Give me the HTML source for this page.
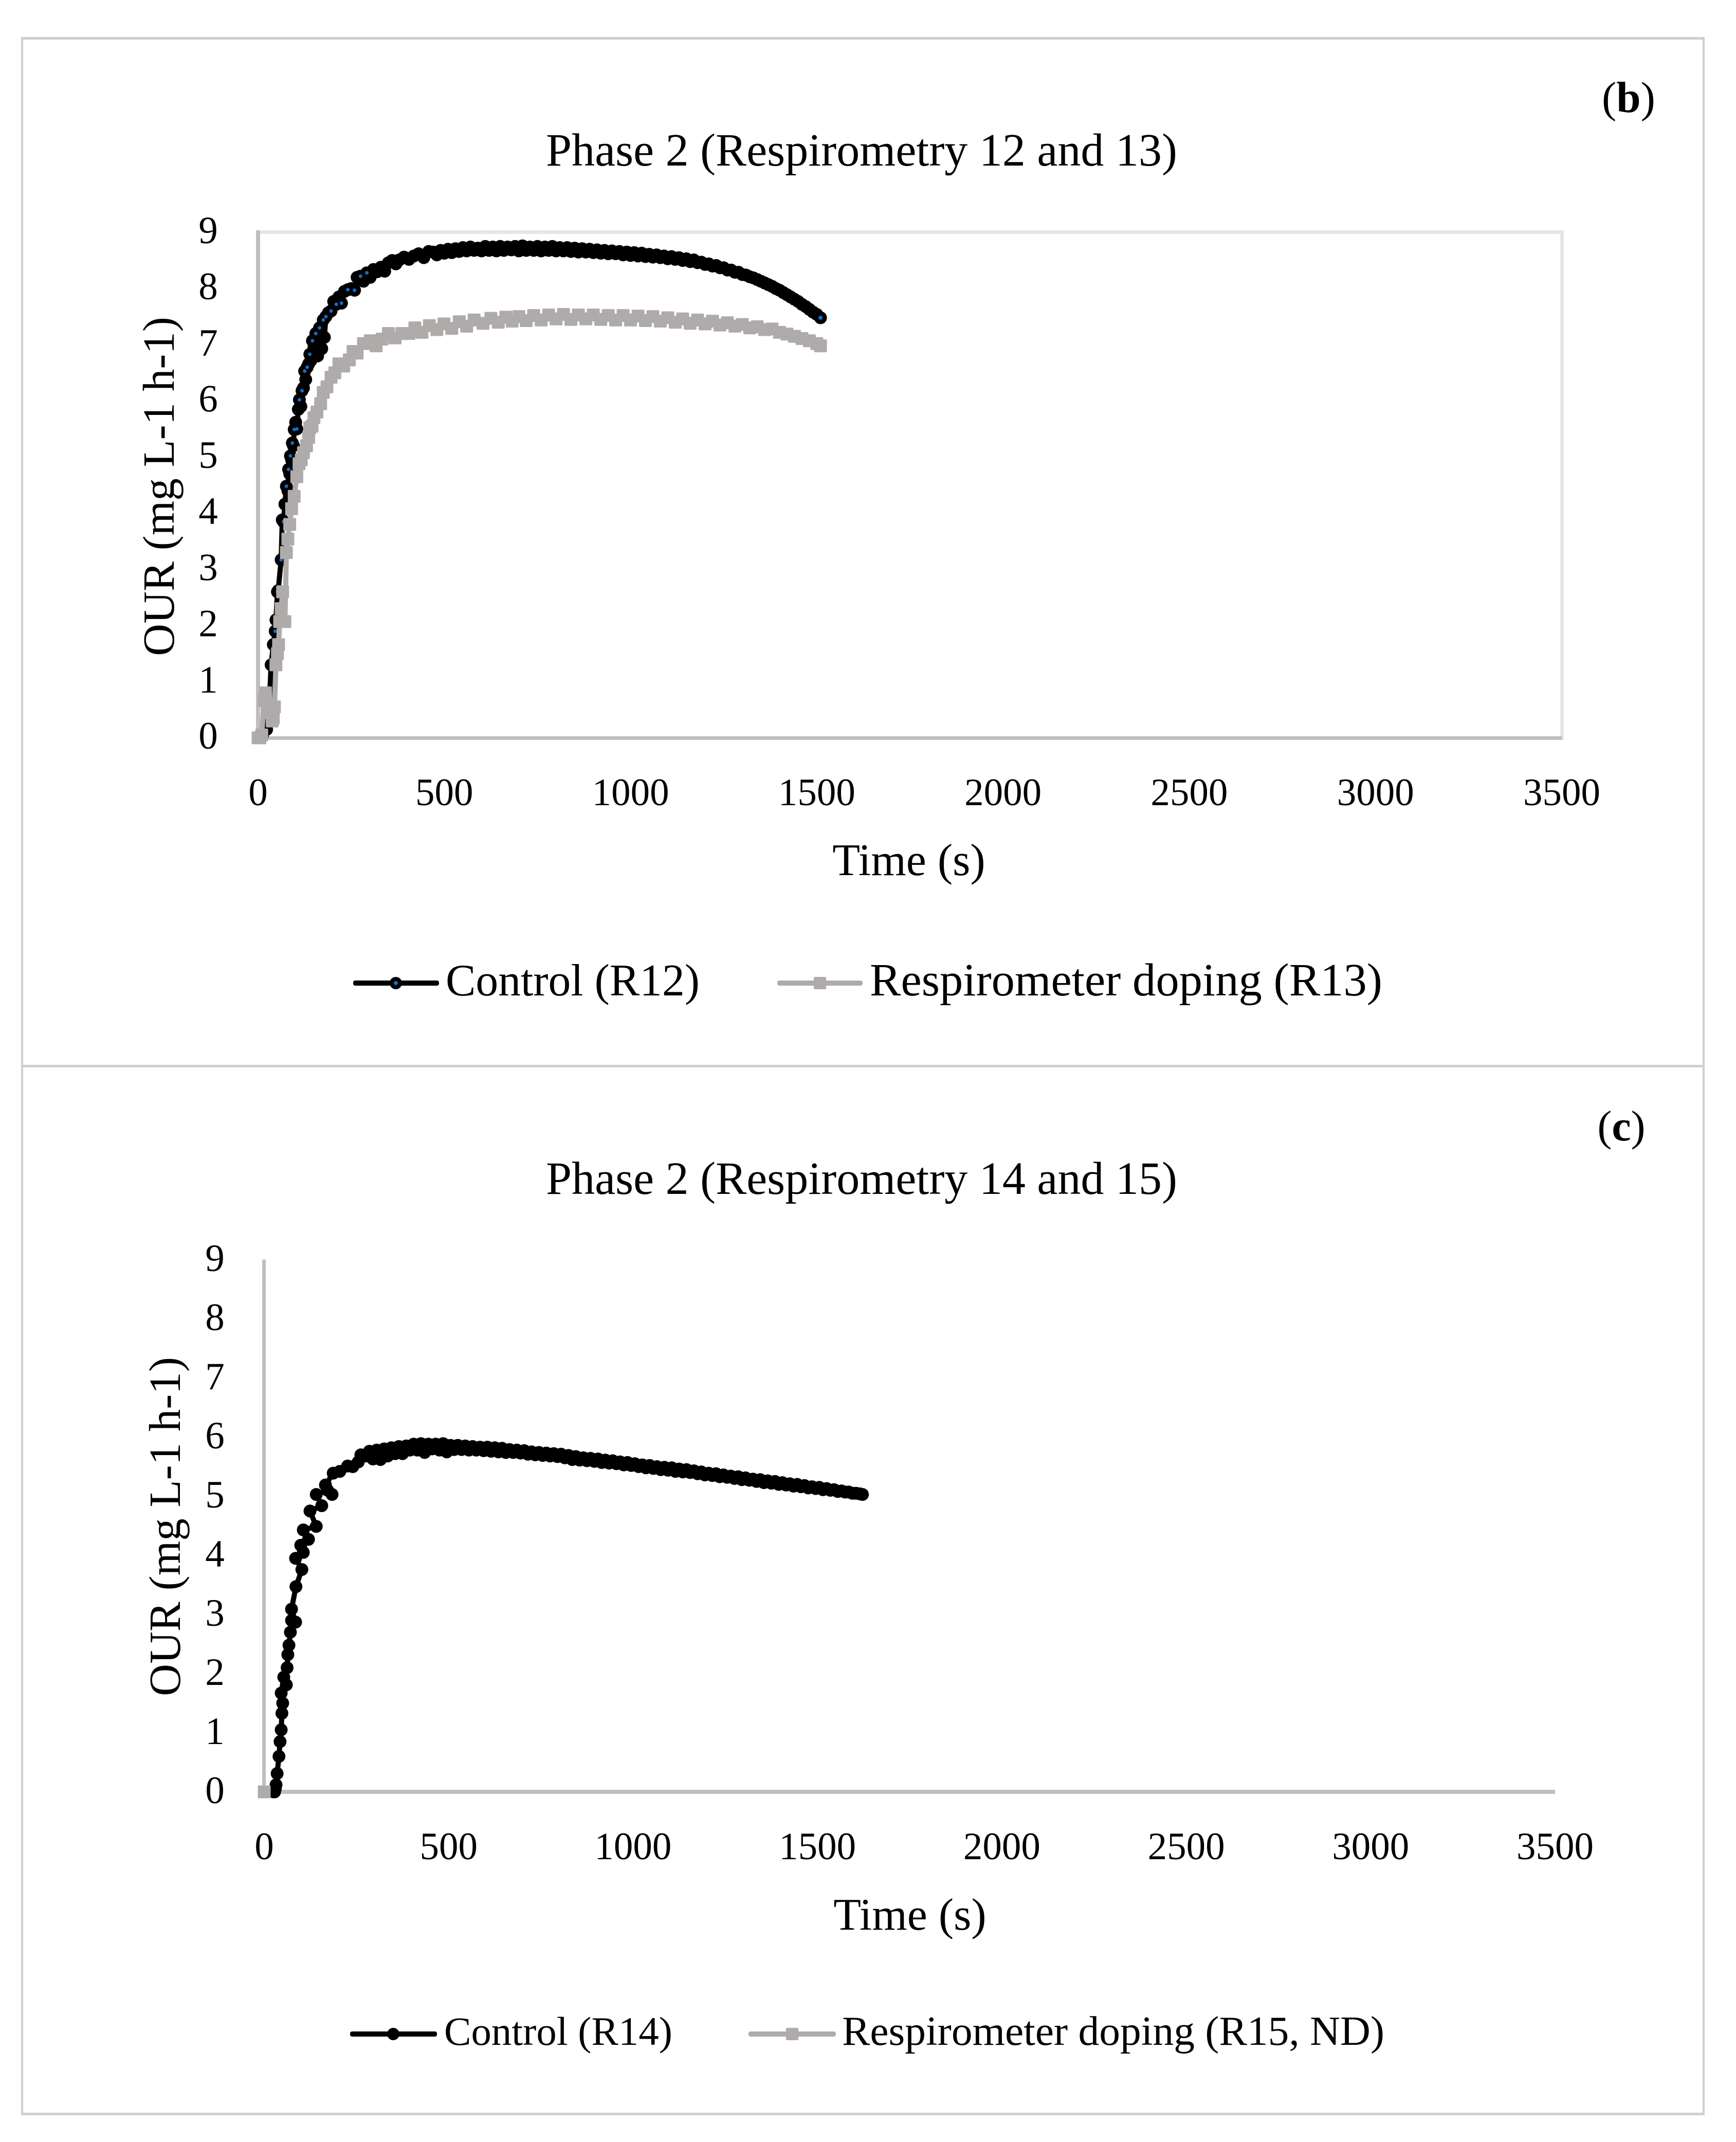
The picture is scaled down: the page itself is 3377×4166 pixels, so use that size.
<!DOCTYPE html>
<html lang="en">
<head>
<meta charset="utf-8">
<title>Phase 2 respirometry charts</title>
<style>
  html, body { margin: 0; padding: 0; background: #fff; }
  svg { display: block; }
  text { font-family: "Liberation Serif", serif; fill: #000; }
  .tick { font-size: 75px; }
  .title { font-size: 88px; }
</style>
</head>
<body>
<svg id="figure" xmlns="http://www.w3.org/2000/svg" width="3377" height="4166" viewBox="0 0 3377 4166">
  <rect x="0" y="0" width="3377" height="4166" fill="#fff"/>
  <g fill="#D0CECE">
    <rect x="41" y="72" width="3275" height="5"/>
    <rect x="41" y="2071" width="3275" height="5"/>
    <rect x="41" y="4109" width="3275" height="5"/>
    <rect x="41" y="72" width="4" height="4042"/>
    <rect x="3312" y="72" width="4" height="4042"/>
  </g>

  <text style="font-size:85px" x="3168" y="218" text-anchor="middle">(<tspan font-weight="bold">b</tspan>)</text>
  <text style="font-size:90px" x="1062" y="322" textLength="1228" lengthAdjust="spacingAndGlyphs">Phase 2 (Respirometry 12 and 13)</text>
  <text class="title" x="1768" y="1702" text-anchor="middle">Time (s)</text>
  <text style="font-size:87px" text-anchor="middle" transform="translate(338 946) rotate(-90)">OUR (mg L-1 h-1)</text>
  <g id="plot-b"></g>
  <g>
    <g>
      <rect x="687" y="1907" width="167" height="10" rx="4" fill="#000"/>
      <circle cx="770" cy="1912" r="12" fill="#000"/>
      <circle cx="770" cy="1912" r="4" fill="#0F6FC6"/>
      <text class="title" x="867" y="1936" textLength="494" lengthAdjust="spacingAndGlyphs">Control (R12)</text>
    </g>
    <g>
      <rect x="1512" y="1907" width="166" height="10" rx="4" fill="#AFABAB"/>
      <rect x="1583" y="1900" width="24" height="24" rx="2" fill="#AFABAB"/>
      <text style="font-size:90px" x="1692" y="1936" textLength="997" lengthAdjust="spacingAndGlyphs">Respirometer doping (R13)</text>
    </g>
  </g>

  <text style="font-size:84px" x="3154" y="2218" text-anchor="middle">(<tspan font-weight="bold">c</tspan>)</text>
  <text style="font-size:90px" x="1062" y="2322" textLength="1228" lengthAdjust="spacingAndGlyphs">Phase 2 (Respirometry 14 and 15)</text>
  <text class="title" x="1770" y="3753" text-anchor="middle">Time (s)</text>
  <text style="font-size:87px" text-anchor="middle" transform="translate(350 2969) rotate(-90)">OUR (mg L-1 h-1)</text>
  <g id="plot-c"></g>
  <g>
    <g>
      <rect x="681" y="3951" width="169" height="10" rx="4" fill="#000"/>
      <circle cx="765" cy="3956" r="12" fill="#000"/>
      <text style="font-size:78px" x="864" y="3977" textLength="444" lengthAdjust="spacingAndGlyphs">Control (R14)</text>
    </g>
    <g>
      <rect x="1456" y="3951" width="170" height="10" rx="4" fill="#AFABAB"/>
      <rect x="1529" y="3944" width="24" height="24" rx="2" fill="#AFABAB"/>
      <text style="font-size:80px" x="1638" y="3977" textLength="1055" lengthAdjust="spacingAndGlyphs">Respirometer doping (R15, ND)</text>
    </g>
  </g>
</svg>

<script>
const xTickValues = [0, 500, 1000, 1500, 2000, 2500, 3000, 3500];
const yTickValues = [0, 1, 2, 3, 4, 5, 6, 7, 8, 9];

const r12Times = [
  0,12,23,30,35,41,46,48,52,54,
  62,65,68,72,76,80,82,85,87,90,
  92,95,97,101,104,108,111,115,118,122,
  125,128,132,136,139,142,146,150,155,160,
  165,171,175,178,182,189,196,203,210,217,
  224,232,241,250,259,266,275,283,292,301,
  310,320,330,340,350,360,370,379,392,405,
  418,431,445,458,
  470,480,490,500,510,520,530,540,550,560,
  570,580,590,600,610,620,630,640,650,660,
  670,680,690,700,710,720,730,740,750,760,
  770,780,790,800,810,820,830,840,850,860,
  870,880,890,900,910,920,930,940,950,960,
  970,980,990,1000,1010,1020,1030,1040,1050,1060,
  1070,1080,1090,1100,1110,1120,1130,1140,1150,1160,
  1170,1180,1190,1200,1210,1220,1230,1240,1250,1260,
  1270,1280,1290,1300,1310,1320,1330,1340,1350,1360,
  1370,1380,1390,1400,1410,1420,1430,1440,1450,1460,
  1470,1480,1490,1500,1510
];
const r12Values = [
  0,0.05,0.15,0.6,1.3,1.66,1.9,2.1,2.6,2.62,
  3.17,3.88,3.85,4.16,4.48,4.4,4.78,4.7,5.02,4.95,
  5.25,5.2,5.49,5.62,5.5,5.85,6.02,5.9,6.18,6.23,
  6.53,6.38,6.6,6.66,6.83,6.72,7.07,6.95,7.2,6.8,
  7.3,6.93,7.44,7.13,7.5,7.57,7.6,7.77,7.72,7.85,
  7.74,7.95,7.98,8.0,7.97,8.2,8.22,8.13,8.28,8.2,
  8.34,8.3,8.38,8.31,8.46,8.5,8.44,8.51,8.56,8.52,
  8.58,8.62,8.55,8.66,
  8.65,8.60,8.68,8.63,8.70,8.64,8.71,8.66,8.73,8.67,
  8.74,8.68,8.72,8.67,8.75,8.68,8.74,8.67,8.75,8.68,
  8.74,8.69,8.75,8.67,8.76,8.68,8.74,8.68,8.75,8.67,
  8.74,8.68,8.75,8.67,8.73,8.67,8.73,8.66,8.72,8.65,
  8.71,8.65,8.70,8.64,8.69,8.63,8.68,8.62,8.67,8.62,
  8.66,8.60,8.65,8.59,8.64,8.58,8.63,8.57,8.61,8.56,
  8.60,8.55,8.58,8.53,8.57,8.52,8.55,8.50,8.53,8.48,
  8.51,8.46,8.47,8.43,8.44,8.40,8.41,8.37,8.37,8.33,
  8.33,8.29,8.29,8.25,8.24,8.21,8.19,8.16,8.13,8.10,
  8.07,8.04,8.00,7.97,7.93,7.89,7.85,7.81,7.77,7.72,
  7.68,7.63,7.58,7.54,7.48
];

const r13Times = [
  0,5,10,16,20,24,27,33,38,41,
  44,48,52,55,58,62,66,72,76,80,
  85,90,97,104,110,116,122,130,136,139,
  145,150,158,168,175,185,196,206,217,230,
  245,255,266,283,301,317,333,350,368,386,
  405,421,440,460,480,499,520,540,560,580,
  604,625,645,665,682,700,720,740,760,780,
  800,820,840,860,880,900,920,940,960,980,
  1000,1020,1040,1060,1080,1100,1120,1140,1160,1180,
  1200,1220,1240,1260,1280,1300,1320,1340,1360,1380,
  1400,1420,1440,1460,1480,1500,1510
];
const r13Values = [
  0,0,0.05,0.66,0.8,0.6,0.52,0.45,0.3,0.35,
  0.55,1.3,1.5,1.66,2.07,2.3,2.6,2.07,3.3,3.54,
  3.8,4.08,4.3,4.65,4.88,4.95,5.08,5.2,5.35,5.52,
  5.55,5.7,5.8,5.95,6.15,6.25,6.42,6.5,6.66,6.62,
  6.73,6.88,6.85,7.02,7.07,6.98,7.1,7.2,7.12,7.2,
  7.2,7.3,7.22,7.34,7.27,7.37,7.29,7.41,7.33,7.44,
  7.38,7.47,7.4,7.49,7.42,7.5,7.43,7.52,7.44,7.53,
  7.46,7.54,7.45,7.53,7.46,7.53,7.45,7.52,7.44,7.52,
  7.44,7.51,7.43,7.5,7.42,7.48,7.4,7.46,7.38,7.44,
  7.37,7.42,7.35,7.39,7.33,7.36,7.3,7.32,7.27,7.28,
  7.22,7.19,7.15,7.11,7.07,7.02,6.98
];

const r14Times = [
  25,28,30,32,35,40,43,46,48,50,
  46,53,60,62,64,67,71,74,85,74,
  86,102,85,106,99,120,106,141,124,156,
  141,172,184,166,187,205,226,240,255,262,
  275,285,295,305,315,325,335,345,355,365,
  375,385,395,405,415,425,435,445,455,465,
  475,485,495,505,515,525,535,545,555,565,
  575,585,595,605,615,625,635,645,655,
  665,675,685,695,705,715,725,735,745,755,
  765,775,785,795,805,815,825,835,845,855,
  865,875,885,895,905,915,925,935,945,955,
  965,975,985,995,1005,1015,1025,1035,1045,1055,
  1065,1075,1085,1095,1105,1115,1125,1135,1145,1155,
  1165,1175,1185,1195,1205,1215,1225,1235,1245,1255,
  1265,1275,1285,1295,1305,1315,1325,1335,1345,1355,
  1365,1375,1385,1395,1405,1415,1425,1435,1445,1455,
  1465,1475,1485,1495,1505,1515,1525,1535,1545,1555,
  1565,1575,1585,1595,1605,1615,1622
];
const r14Values = [
  0,0,0.05,0.12,0.31,0.6,0.85,1.05,1.33,1.5,
  1.67,1.94,1.81,2.1,2.32,2.48,2.7,2.9,2.87,3.09,
  3.47,3.76,3.95,4.05,4.17,4.27,4.43,4.49,4.75,4.84,
  5.03,5.1,5.03,5.19,5.39,5.42,5.51,5.5,5.58,5.7,
  5.68,5.76,5.63,5.78,5.62,5.8,5.68,5.82,5.72,5.84,
  5.72,5.85,5.78,5.88,5.78,5.89,5.74,5.88,5.8,5.88,
  5.78,5.89,5.75,5.86,5.79,5.86,5.79,5.85,5.78,5.84,
  5.78,5.83,5.77,5.83,5.76,5.82,5.75,5.81,5.74,
  5.79,5.74,5.78,5.73,5.77,5.71,5.75,5.7,5.74,5.69,
  5.73,5.68,5.72,5.67,5.71,5.65,5.69,5.62,5.67,5.61,
  5.65,5.6,5.64,5.59,5.63,5.57,5.61,5.56,5.6,5.55,
  5.58,5.53,5.57,5.52,5.55,5.5,5.53,5.48,5.52,5.47,
  5.5,5.45,5.49,5.44,5.48,5.42,5.46,5.41,5.45,5.4,
  5.43,5.38,5.41,5.36,5.39,5.35,5.38,5.33,5.36,5.32,
  5.34,5.3,5.33,5.28,5.31,5.27,5.29,5.25,5.28,5.23,
  5.26,5.22,5.25,5.2,5.23,5.19,5.21,5.17,5.2,5.16,
  5.18,5.14,5.16,5.13,5.15,5.11,5.13,5.1,5.11,5.08,
  5.09,5.07,5.07,5.05,5.05,5.04,5.03
];

const r15Times = [0];
const r15Values = [0];

const SVG_NS = 'http://www.w3.org/2000/svg';
const xMax = 3500;
const yMax = 9;

function makeScaleX(left, right) {
  return function (v) { return left + (v / xMax) * (right - left); };
}
function makeScaleY(bottom, top) {
  return function (v) { return bottom - (v / yMax) * (bottom - top); };
}
function svgEl(tag, attrs, parent) {
  const el = document.createElementNS(SVG_NS, tag);
  Object.keys(attrs).forEach(function (k) { el.setAttribute(k, attrs[k]); });
  parent.appendChild(el);
  return el;
}

function drawTicks(parent, sx, sy, xBaseline, yTickX, yOffset) {
  xTickValues.forEach(function (v) {
    const t = svgEl('text', { x: sx(v), y: xBaseline, 'text-anchor': 'middle', 'class': 'tick' }, parent);
    
    
    t.textContent = v;
  });
  yTickValues.forEach(function (v) {
    const t = svgEl('text', { x: yTickX, y: sy(v) + yOffset, 'text-anchor': 'middle', 'class': 'tick' }, parent);
    
    
    t.textContent = v;
  });
}

function drawLine(parent, times, values, sx, sy, color, name) {
  const pts = times.map(function (t, i) { return sx(t).toFixed(1) + ',' + sy(values[i]).toFixed(1); }).join(' ');
  const line = svgEl('polyline', { points: pts, fill: 'none', stroke: color, 'stroke-width': 10, 'stroke-linejoin': 'round', 'stroke-linecap': 'round' }, parent);
  
  
}

function drawCircles(parent, times, values, sx, sy, inner) {
  times.forEach(function (t, i) {
    const c = svgEl('circle', { cx: sx(t).toFixed(1), cy: sy(values[i]).toFixed(1), r: 12.5, fill: '#000' }, parent);
    
    
  });
  if (inner) {
    const n = times.length;
    [n - 1].forEach(function (i) {
      const d = svgEl('circle', { cx: sx(times[i]).toFixed(1), cy: sy(values[i]).toFixed(1), r: 4, fill: inner }, parent);
      
      
    });
    times.forEach(function (t, i) {
      if (t > 30 && t < 300 && i % 2 === 0) {
        const d = svgEl('circle', { cx: sx(t).toFixed(1), cy: sy(values[i]).toFixed(1), r: 3.5, fill: inner }, parent);
        
        
      }
    });
  }
}

function drawSquares(parent, times, values, sx, sy) {
  times.forEach(function (t, i) {
    const s = svgEl('rect', { x: (sx(t) - 12.5).toFixed(1), y: (sy(values[i]) - 12.5).toFixed(1), width: 25, height: 25, rx: 2, fill: '#AFABAB' }, parent);
    
    
  });
}

function drawAxisRect(parent, x, y, w, h, color, name) {
  const r = svgEl('rect', { x: x, y: y, width: w, height: h, fill: color }, parent);
  
  
}

/* Panel b */
(function () {
  const g = document.getElementById('plot-b');
  const sx = makeScaleX(502, 3038);
  const sy = makeScaleY(1435, 452);
  drawAxisRect(g, 498, 448, 2544, 7, '#E6E6E6', 'plot-border-top');
  drawAxisRect(g, 3035, 448, 7, 991, '#E6E6E6', 'plot-border-right');
  drawAxisRect(g, 498, 1432, 2541, 7, '#BFBFBF', 'x-axis-line');
  drawAxisRect(g, 498, 448, 8, 991, '#BFBFBF', 'y-axis-line');
  drawTicks(g, sx, sy, 1566, 405, 21);
  drawLine(g, r12Times, r12Values, sx, sy, '#000', 'series-line-r12');
  drawCircles(g, r12Times, r12Values, sx, sy, '#0F6FC6');
  drawLine(g, r13Times, r13Values, sx, sy, '#AFABAB', 'series-line-r13');
  drawSquares(g, r13Times, r13Values, sx, sy);
})();

/* Panel c */
(function () {
  const g = document.getElementById('plot-c');
  const sx = makeScaleX(514, 3025);
  const sy = makeScaleY(3485, 2450);
  drawAxisRect(g, 510, 3481, 2515, 8, '#BFBFBF', 'x-axis-line');
  drawAxisRect(g, 510, 2450, 7, 1039, '#BFBFBF', 'y-axis-line');
  drawTicks(g, sx, sy, 3616, 418, 22);
  drawLine(g, r14Times, r14Values, sx, sy, '#000', 'series-line-r14');
  drawCircles(g, r14Times, r14Values, sx, sy, null);
  drawSquares(g, r15Times, r15Values, sx, sy);
})();
</script>
</body>
</html>
